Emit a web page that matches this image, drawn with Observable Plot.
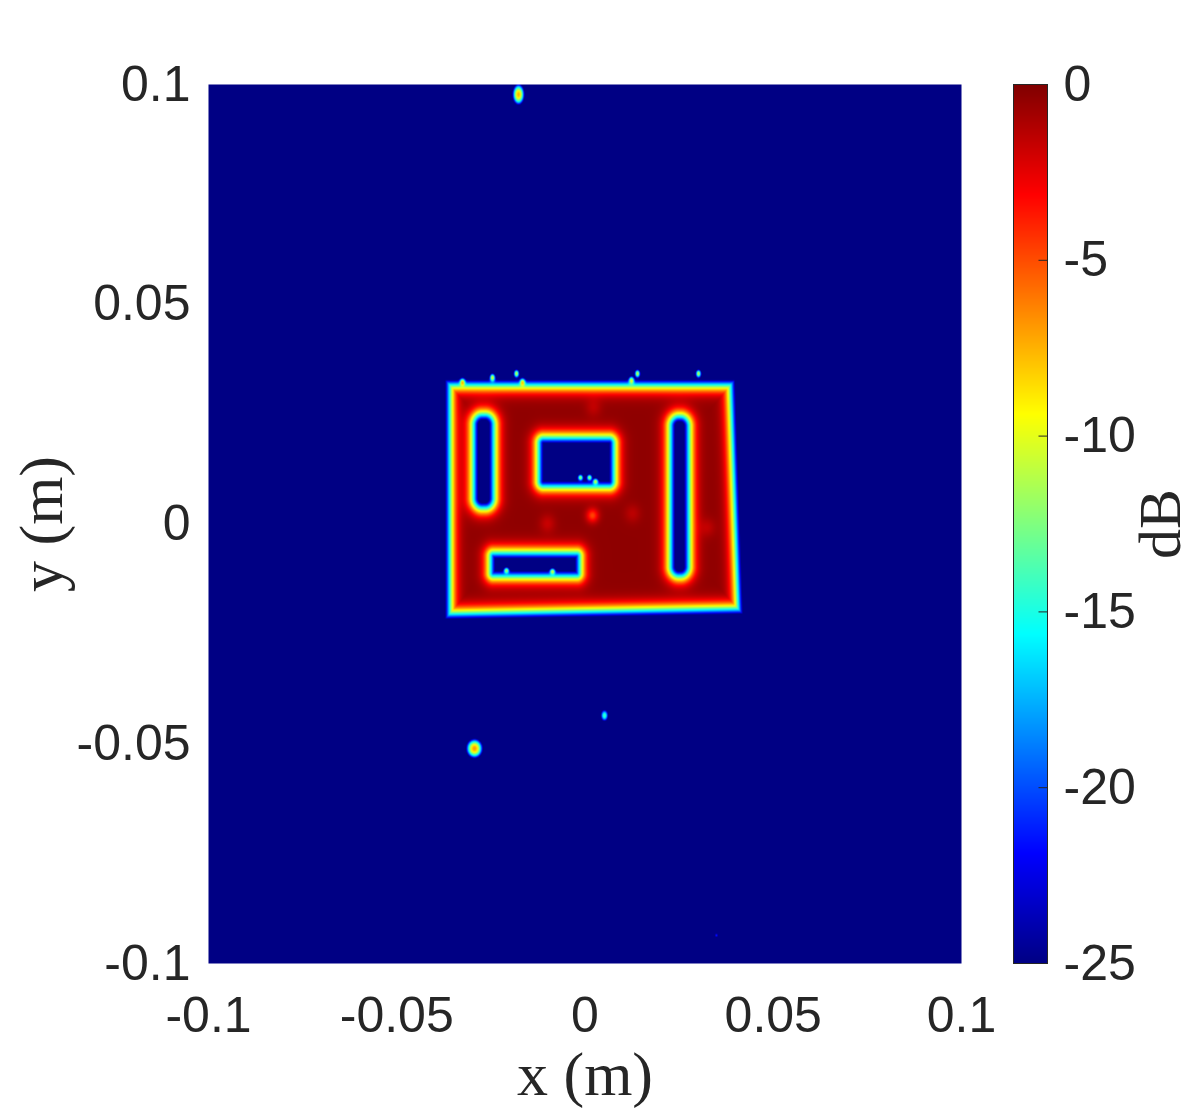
<!DOCTYPE html>
<html><head><meta charset="utf-8">
<script src="https://cdn.jsdelivr.net/npm/d3@7"></script>
<script src="https://cdn.jsdelivr.net/npm/@observablehq/plot@0.6"></script>
<style>
body{margin:0;background:#fff;}
#wrap{position:relative;width:1190px;height:1114px;background:#fff;}
#wrap svg{position:absolute;left:0;top:0;background:transparent;}
</style></head><body><div id="wrap"></div>
<script>
// ---- axes / scale ----
const xTicks = [-0.1, -0.05, 0, 0.05, 0.1];
const yTicks = [-0.1, -0.05, 0, 0.05, 0.1];
const dbTicks = [-25, -20, -15, -10, -5, 0];
const jetStops = [-25, -21.875, -15.625, -9.375, -3.125, 0];
const jetColors = ["#000084", "#0000ff", "#00ffff", "#ffff00", "#ff0000", "#800000"];

// ---- plate (quadrilateral, corners TL, TR, BR, BL in m) ----
const plateX = [-0.0346, 0.0374, 0.0393, -0.0346];
const plateY = [0.0303, 0.0303, -0.0180, -0.0191];
const plateLevel = 0.96;

// ---- slots in the plate (rounded rectangles, m) ----
const holeX1 = [-0.0309, -0.0136, 0.0214, -0.0264];
const holeX2 = [-0.0229, 0.0090, 0.0289, -0.0001];
const holeY1 = [0.0023, 0.0072, -0.0132, -0.0132];
const holeY2 = [0.0262, 0.0209, 0.0258, -0.0053];
const holeR  = [0.0036, 0.0025, 0.0035, 0.0020];

// ---- point scatterers (position m, linear amplitude, spread m) ----
const ptX   = [-0.01766, -0.02935, 0.00518, 0.0349, -0.03254, -0.02457, -0.01819, -0.01660, 0.01235, 0.01394, 0.03015, -0.00120, 0.00120, 0.00279, -0.02085, -0.00863];
const ptY   = [0.09773, -0.05108, -0.04357, -0.0936, 0.03220, 0.03333, 0.03424, 0.03220, 0.03265, 0.03424, 0.03424, 0.01058, 0.01058, 0.00967, -0.01058, -0.01081];
const ptAmp = [0.42, 0.45, 0.20, 0.09, 0.32, 0.28, 0.28, 0.30, 0.26, 0.28, 0.28, 0.24, 0.24, 0.24, 0.22, 0.24];
const ptSx  = [0.0008, 0.0011, 0.0006, 0.0004, 0.0004, 0.0004, 0.0004, 0.0004, 0.0004, 0.0004, 0.0004, 0.0004, 0.0004, 0.0004, 0.0004, 0.0004];
const ptSy  = [0.0012, 0.0011, 0.0008, 0.0004, 0.0005, 0.0005, 0.0005, 0.0005, 0.0005, 0.0005, 0.0005, 0.0004, 0.0004, 0.0004, 0.0004, 0.0004];

// ---- weaker patches inside the plate ----
const dipX = [0.00199, -0.00996, 0.01262, 0.00226, 0.03254];
const dipY = [0.00193, 0.00011, 0.00239, 0.02651, -0.0008];
const dipDepth = [0.40, 0.15, 0.12, 0.12, 0.12];
const dipS = [0.0012, 0.0015, 0.0015, 0.0015, 0.0015];

const edgeW = 0.0009; // edge blur width (m)

// ---- rendering helpers ----
const logistic = s => 1 / (1 + Math.exp(-s));
function plateSdf(x, y) {
  let d = -Infinity;
  for (let i = 0; i < 4; i++) {
    const j = (i + 1) % 4;
    const dx = plateX[j] - plateX[i], dy = plateY[j] - plateY[i];
    const L = Math.hypot(dx, dy);
    const nx = -dy / L, ny = dx / L;
    d = Math.max(d, (x - plateX[i]) * nx + (y - plateY[i]) * ny);
  }
  return d; // positive outside
}
function holeSdf(i, x, y) {
  const cx = (holeX1[i] + holeX2[i]) / 2, cy = (holeY1[i] + holeY2[i]) / 2;
  const hx = (holeX2[i] - holeX1[i]) / 2, hy = (holeY2[i] - holeY1[i]) / 2;
  const r = holeR[i];
  const qx = Math.abs(x - cx) - (hx - r), qy = Math.abs(y - cy) - (hy - r);
  return Math.hypot(Math.max(qx, 0), Math.max(qy, 0)) + Math.min(Math.max(qx, qy), 0) - r; // positive outside hole
}
function level(x, y) {
  let a = 0;
  const ds = plateSdf(x, y);
  if (ds < 12 * edgeW) {
    a = plateLevel * logistic(-ds / edgeW);
    for (let i = 0; i < holeX1.length; i++) {
      const h = holeSdf(i, x, y);
      if (h < 12 * edgeW) a *= logistic(h / edgeW);
    }
    for (let i = 0; i < dipX.length; i++) {
      const r2 = ((x - dipX[i]) ** 2 + (y - dipY[i]) ** 2) / (2 * dipS[i] ** 2);
      if (r2 < 20) a *= 1 - dipDepth[i] * Math.exp(-r2);
    }
  }
  for (let i = 0; i < ptX.length; i++) {
    const r2 = (x - ptX[i]) ** 2 / (2 * ptSx[i] ** 2) + (y - ptY[i]) ** 2 / (2 * ptSy[i] ** 2);
    if (r2 < 20) a += ptAmp[i] * Math.exp(-r2);
  }
  const db = 20 * Math.log10(Math.max(a, 1e-5));
  return Math.max(-25, Math.min(0, db));
}

const colorScale = {type: "linear", domain: jetStops, range: jetColors, clamp: true};
const fmt = d => String(d);
const tickFont = "'Liberation Sans', Arial, Helvetica, sans-serif";
const labelFont = "'Liberation Serif', 'DejaVu Serif', 'Times New Roman', serif";

const main = Plot.plot({
  width: 1190, height: 1114,
  marginLeft: 208, marginRight: 229, marginTop: 84, marginBottom: 151,
  x: {domain: [-0.1, 0.1]},
  y: {domain: [-0.1, 0.1]},
  color: colorScale,
  style: {fontFamily: tickFont, fontSize: "50px", color: "#262626", background: "transparent"},
  marks: [
    Plot.raster({x1: -0.1, x2: 0.1, y1: -0.1, y2: 0.1, fill: level, pixelSize: 1}),
    Plot.axisX({ticks: xTicks, tickFormat: fmt, tickSize: 0, tickPadding: 33, label: null, fontSize: 50, fill: "#262626"}),
    Plot.axisY({ticks: yTicks, tickFormat: fmt, tickSize: 0, tickPadding: 18, label: null, fontSize: 50, fill: "#262626"}),
    Plot.text(["x (m)"], {frameAnchor: "bottom", textAnchor: "middle", lineAnchor: "middle", dy: 112, fontFamily: labelFont, fontSize: 62, fill: "#262626"}),
    Plot.text(["y (m)"], {frameAnchor: "left", textAnchor: "middle", lineAnchor: "middle", dx: -166, rotate: -90, fontFamily: labelFont, fontSize: 62, fill: "#262626"})
  ]
});

const bar = Plot.plot({
  width: 1190, height: 1114,
  marginLeft: 1013, marginRight: 143, marginTop: 84, marginBottom: 151,
  x: {domain: [0, 1], axis: null},
  y: {domain: [-25, 0]},
  color: colorScale,
  style: {fontFamily: tickFont, fontSize: "50px", color: "#262626", background: "transparent"},
  marks: [
    Plot.raster({x1: 0, x2: 1, y1: -25, y2: 0, fill: (x, y) => y, pixelSize: 1}),
    Plot.ruleY(dbTicks.slice(1, -1), {x1: 0.75, x2: 1, stroke: "#262626", strokeWidth: 1}),
    Plot.frame({stroke: "#262626", strokeWidth: 1}),
    Plot.axisY({anchor: "right", ticks: dbTicks, tickFormat: fmt, tickSize: 0, tickPadding: 16, label: null, fontSize: 50, fill: "#262626"}),
    Plot.text(["dB"], {frameAnchor: "right", textAnchor: "middle", lineAnchor: "middle", dx: 113, rotate: -90, fontFamily: labelFont, fontSize: 60, fill: "#262626"})
  ]
});

const wrap = document.getElementById("wrap");
wrap.appendChild(main);
wrap.appendChild(bar);
</script></body></html>
